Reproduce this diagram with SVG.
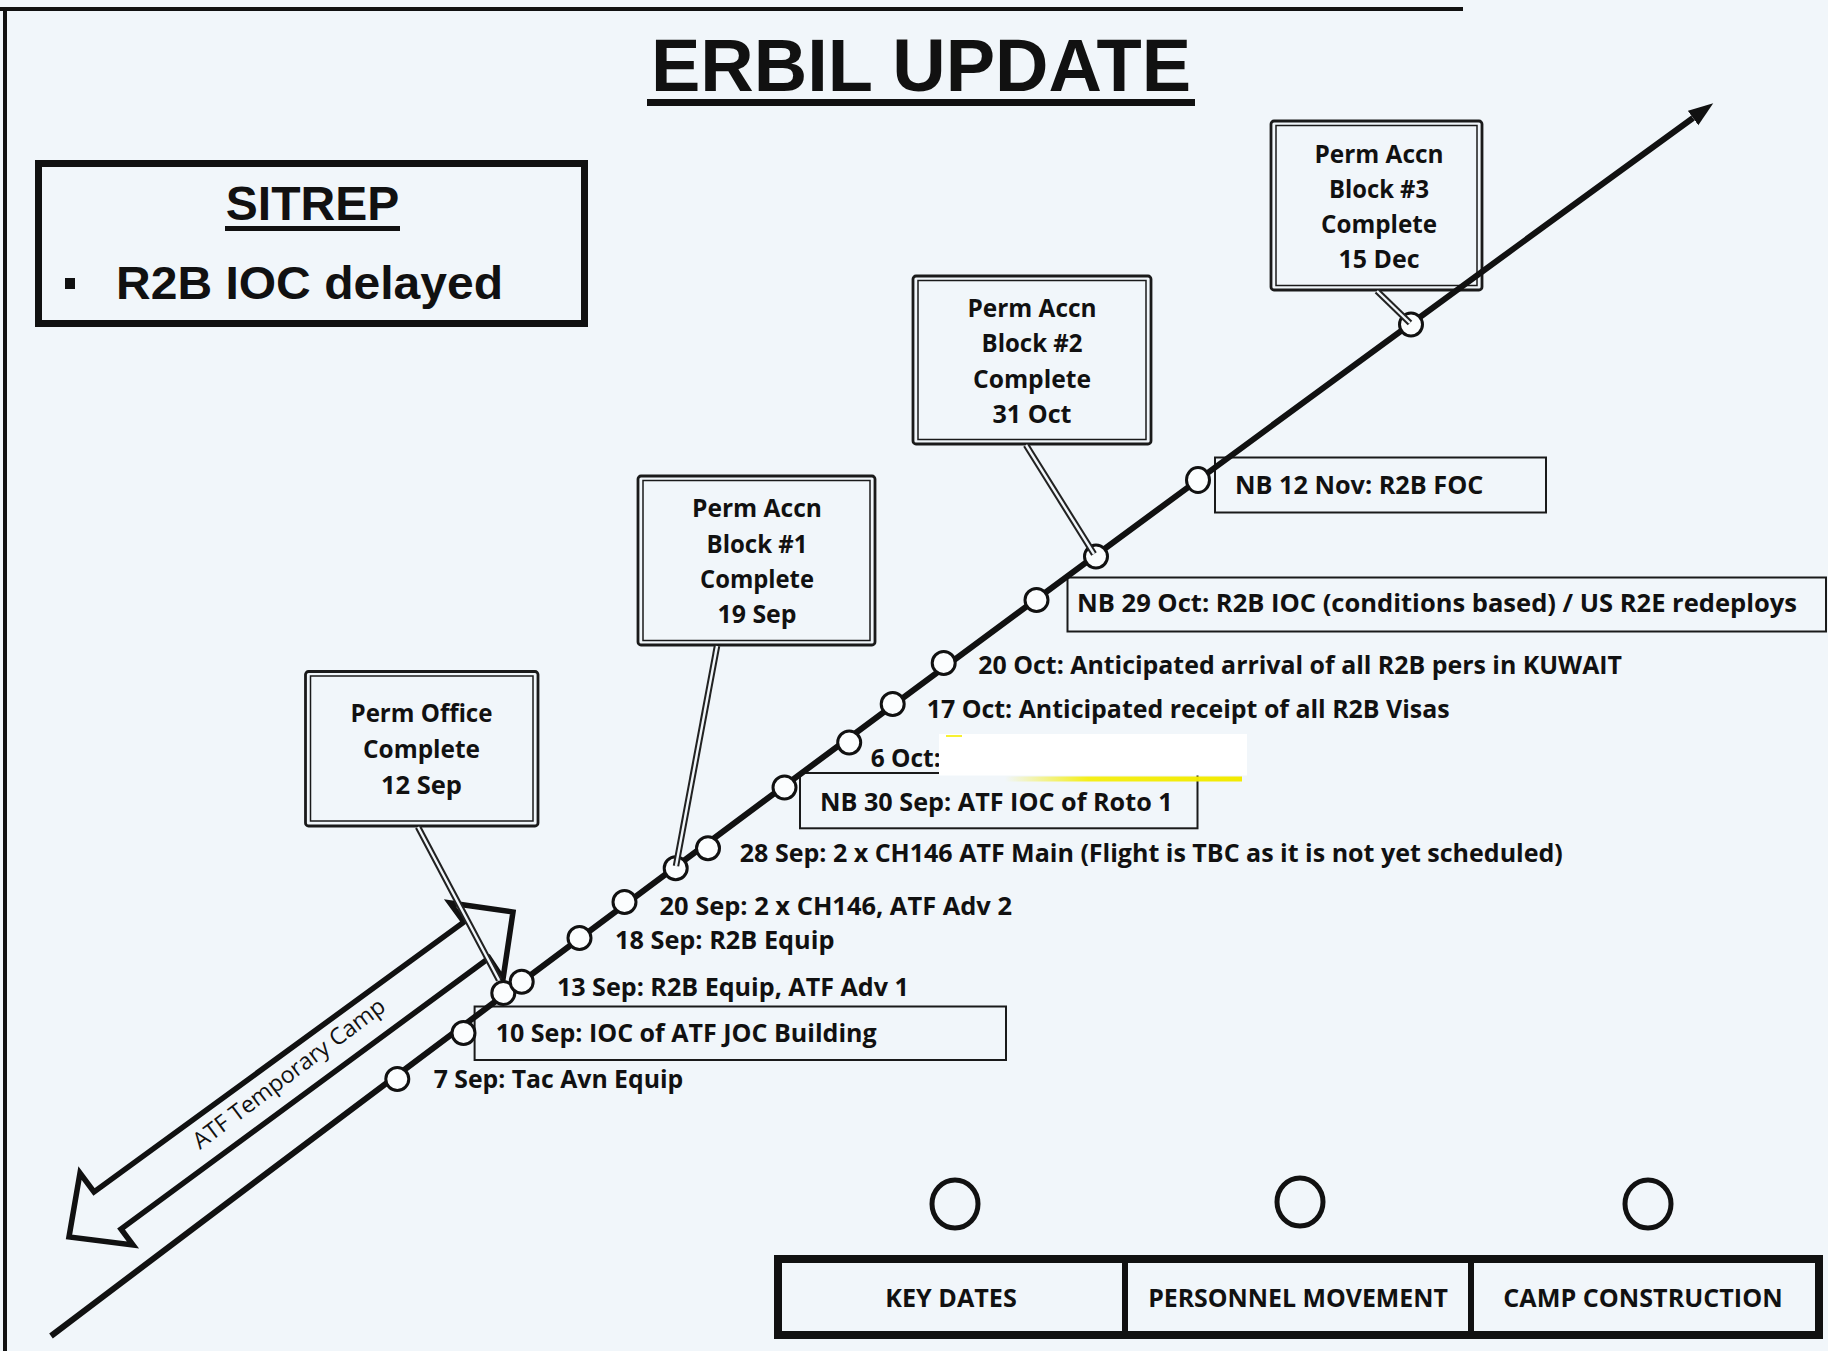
<svg xmlns="http://www.w3.org/2000/svg" width="1828" height="1351" viewBox="0 0 1828 1351">
<defs>
<marker id="arrowhead" markerUnits="userSpaceOnUse" markerWidth="26" markerHeight="20" refX="0" refY="9" orient="auto">
<path d="M0,0 L25,9 L0,18 z" fill="#111"/>
</marker>
<linearGradient id="yel" x1="0" y1="0" x2="1" y2="0">
<stop offset="0" stop-color="#f5ee00" stop-opacity="0"/>
<stop offset="0.35" stop-color="#f5ee00" stop-opacity="0.9"/>
<stop offset="1" stop-color="#f2ea00" stop-opacity="1"/>
</linearGradient>
<style>
.bg{fill:#f1f6fa}
.frame{stroke:#111;stroke-width:4;fill:none}
.lbl{font-family:"Open Sans",Lato,"Liberation Sans",sans-serif;font-weight:700;font-size:25px;fill:#111}
.btxt{font-family:"Open Sans",Lato,"Liberation Sans",sans-serif;font-weight:700;font-size:25px;fill:#111;text-anchor:middle}
.leg{font-family:"Open Sans",Lato,"Liberation Sans",sans-serif;font-weight:700;font-size:25px;fill:#111;text-anchor:middle}
.lbox{fill:none;stroke:#1a1a1a;stroke-width:2}
.outer{fill:none;stroke:#1a1a1a;stroke-width:2.8}
.inner{fill:none;stroke:#1a1a1a;stroke-width:1.5}
.dot{fill:#fbfdfe;stroke:#111;stroke-width:3}
.c-out{stroke:#222;stroke-width:6.5;stroke-linecap:butt}
.c-in{stroke:#f1f6fa;stroke-width:2.4;stroke-linecap:butt}
</style>
</defs>
<rect class="bg" x="0" y="0" width="1828" height="1351"/>
<line class="frame" x1="0" y1="9" x2="1463" y2="9"/>
<line class="frame" x1="5" y1="7" x2="5" y2="1351"/>

<g id="title">
<text x="921" y="91" font-family="'Liberation Sans',Arial,sans-serif" font-weight="700" font-size="74" text-anchor="middle" fill="#111">ERBIL UPDATE</text>
<rect x="647" y="99" width="548" height="7" fill="#111"/>
</g>

<g id="sitrep">
<rect x="38.5" y="163.5" width="546" height="160" fill="none" stroke="#111" stroke-width="7"/>
<text x="312.5" y="220" font-family="'Liberation Sans',Arial,sans-serif" font-weight="700" font-size="48" text-anchor="middle" fill="#111">SITREP</text>
<rect x="225" y="226" width="175" height="5" fill="#111"/>
<rect x="65" y="278" width="10" height="11" fill="#111"/>
<text x="116" y="299" font-family="'Liberation Sans',Arial,sans-serif" font-weight="700" font-size="46" textLength="387" lengthAdjust="spacingAndGlyphs" fill="#111">R2B IOC delayed</text>
</g>

<g id="label-boxes">
<rect class="lbox" x="474.6" y="1006.5" width="531.4" height="53.5"/>
<rect class="lbox" x="800" y="773" width="397.5" height="55.3"/>
<rect class="lbox" x="1067.5" y="577.5" width="758.5" height="54"/>
<rect class="lbox" x="1215" y="457.5" width="331" height="55"/>
</g>

<g id="perm-office">
<rect class="outer" x="305.5" y="671.5" width="232.5" height="154.5" rx="3"/>
<rect class="inner" x="310.5" y="676" width="222.5" height="145"/>
<text class="btxt" x="421.5" y="722" textLength="142" lengthAdjust="spacingAndGlyphs">Perm Office</text>
<text class="btxt" x="421.5" y="758" textLength="117" lengthAdjust="spacingAndGlyphs">Complete</text>
<text class="btxt" x="421.5" y="793.5" textLength="81" lengthAdjust="spacingAndGlyphs">12 Sep</text>
</g>

<g id="perm-accn-1">
<rect class="outer" x="638" y="476" width="237" height="169" rx="3"/>
<rect class="inner" x="643" y="480.5" width="227" height="160"/>
<text class="btxt" x="757" y="517.3" textLength="130" lengthAdjust="spacingAndGlyphs">Perm Accn</text>
<text class="btxt" x="757" y="552.7" textLength="101" lengthAdjust="spacingAndGlyphs">Block #1</text>
<text class="btxt" x="757" y="588.3" textLength="114" lengthAdjust="spacingAndGlyphs">Complete</text>
<text class="btxt" x="757" y="623.3" textLength="79" lengthAdjust="spacingAndGlyphs">19 Sep</text>
</g>

<g id="perm-accn-2">
<rect class="outer" x="913" y="276" width="238" height="168" rx="3"/>
<rect class="inner" x="918" y="280.5" width="228" height="159"/>
<text class="btxt" x="1032" y="317.3" textLength="129" lengthAdjust="spacingAndGlyphs">Perm Accn</text>
<text class="btxt" x="1032" y="352.3" textLength="101" lengthAdjust="spacingAndGlyphs">Block #2</text>
<text class="btxt" x="1032" y="387.7" textLength="118" lengthAdjust="spacingAndGlyphs">Complete</text>
<text class="btxt" x="1032" y="422.7" textLength="79" lengthAdjust="spacingAndGlyphs">31 Oct</text>
</g>

<g id="perm-accn-3">
<rect class="outer" x="1271" y="121" width="211" height="169" rx="3"/>
<rect class="inner" x="1276" y="125.5" width="201" height="160"/>
<text class="btxt" x="1379" y="162.5" textLength="129" lengthAdjust="spacingAndGlyphs">Perm Accn</text>
<text class="btxt" x="1379" y="197.5" textLength="100" lengthAdjust="spacingAndGlyphs">Block #3</text>
<text class="btxt" x="1379" y="232.5" textLength="116" lengthAdjust="spacingAndGlyphs">Complete</text>
<text class="btxt" x="1379" y="267.5" textLength="81" lengthAdjust="spacingAndGlyphs">15 Dec</text>
</g>

<g id="atf-temporary-camp">
<polygon points="513,912 503,979 489,958 121,1229 133,1245 69,1237 80,1173 94,1192 464,922 450,903" fill="none" stroke="#111" stroke-width="5.5" stroke-linejoin="miter"/>
<text x="200" y="1150" transform="rotate(-36.9 200 1150)" font-family="'Open Sans',Lato,sans-serif" font-size="23" fill="#111" textLength="234" lengthAdjust="spacingAndGlyphs">ATF Temporary Camp</text>
</g>

<g id="connectors">
<path d="M51,1336 Q875,712.5 1693,118" fill="none" stroke="#111" stroke-width="6" marker-end="url(#arrowhead)"/>
</g>

<g id="timeline-points">
<circle class="dot" cx="397.3" cy="1079" r="11.5"/>
<circle class="dot" cx="463.5" cy="1033" r="11.5"/>
<circle class="dot" cx="503.3" cy="993" r="11.5"/>
<circle class="dot" cx="521.7" cy="981.7" r="11.5"/>
<circle class="dot" cx="579.5" cy="938" r="11.5"/>
<circle class="dot" cx="624.5" cy="902" r="11.5"/>
<circle class="dot" cx="675.7" cy="868.3" r="11.5"/>
<circle class="dot" cx="708" cy="848.3" r="11.5"/>
<circle class="dot" cx="784.5" cy="787.5" r="11.5"/>
<circle class="dot" cx="849.2" cy="742.5" r="11.5"/>
<circle class="dot" cx="892.7" cy="704" r="11.5"/>
<circle class="dot" cx="943.7" cy="663" r="11.5"/>
<circle class="dot" cx="1036.5" cy="600" r="11.5"/>
<circle class="dot" cx="1096" cy="556.5" r="11.5"/>
<ellipse class="dot" cx="1198" cy="480" rx="11.5" ry="12.5"/>
<circle class="dot" cx="1411" cy="324.5" r="11.5"/>
</g>

<g id="callout-connectors">
<line class="c-out" x1="418" y1="827" x2="499" y2="980"/>
<line class="c-in" x1="418" y1="827" x2="499" y2="980"/>
<line class="c-out" x1="717" y1="646" x2="676" y2="866"/>
<line class="c-in" x1="717" y1="646" x2="676" y2="866"/>
<line class="c-out" x1="1026" y1="445" x2="1094" y2="554"/>
<line class="c-in" x1="1026" y1="445" x2="1094" y2="554"/>
<line class="c-out" x1="1377" y1="291" x2="1410" y2="323"/>
<line class="c-in" x1="1377" y1="291" x2="1410" y2="323"/>
</g>

<g id="timeline-labels">
<text class="lbl" x="433.7" y="1088.3" textLength="249.5" lengthAdjust="spacingAndGlyphs">7 Sep: Tac Avn Equip</text>
<text class="lbl" x="495.7" y="1042.3" textLength="381" lengthAdjust="spacingAndGlyphs">10 Sep: IOC of ATF JOC Building</text>
<text class="lbl" x="556.9" y="995.7" textLength="352" lengthAdjust="spacingAndGlyphs">13 Sep: R2B Equip, ATF Adv 1</text>
<text class="lbl" x="615" y="949" textLength="219.4" lengthAdjust="spacingAndGlyphs">18 Sep: R2B Equip</text>
<text class="lbl" x="659.5" y="915" textLength="352.5" lengthAdjust="spacingAndGlyphs">20 Sep: 2 x CH146, ATF Adv 2</text>
<text class="lbl" x="739.8" y="861.7" textLength="823" lengthAdjust="spacingAndGlyphs">28 Sep: 2 x CH146 ATF Main (Flight is TBC as it is not yet scheduled)</text>
<text class="lbl" x="820" y="810.5" textLength="352.7" lengthAdjust="spacingAndGlyphs">NB 30 Sep: ATF IOC of Roto 1</text>
<text class="lbl" x="870.7" y="766.7" textLength="70" lengthAdjust="spacingAndGlyphs">6 Oct:</text>
<text class="lbl" x="926.7" y="718" textLength="523" lengthAdjust="spacingAndGlyphs">17 Oct: Anticipated receipt of all R2B Visas</text>
<text class="lbl" x="978.3" y="674" textLength="643.7" lengthAdjust="spacingAndGlyphs">20 Oct: Anticipated arrival of all R2B pers in KUWAIT</text>
<text class="lbl" x="1077" y="612" textLength="720" lengthAdjust="spacingAndGlyphs">NB 29 Oct: R2B IOC (conditions based) / US R2E redeploys</text>
<text class="lbl" x="1235" y="493.5" textLength="248.3" lengthAdjust="spacingAndGlyphs">NB 12 Nov: R2B FOC</text>
</g>

<g id="redaction">
<rect x="939" y="734" width="308" height="41.5" fill="#ffffff"/>
<rect x="1005" y="776.5" width="237" height="5" fill="url(#yel)"/>
<rect x="946" y="735" width="16" height="2" fill="#f5ee00" opacity="0.8"/>
</g>

<g id="legend">
<ellipse cx="955" cy="1204" rx="23" ry="24" fill="none" stroke="#111" stroke-width="5"/>
<ellipse cx="1300" cy="1202" rx="23" ry="24" fill="none" stroke="#111" stroke-width="5"/>
<ellipse cx="1648" cy="1204" rx="23" ry="24" fill="none" stroke="#111" stroke-width="5"/>
<rect x="778" y="1259" width="1041" height="76" fill="none" stroke="#111" stroke-width="8"/>
<line x1="1125" y1="1259" x2="1125" y2="1335" stroke="#111" stroke-width="6"/>
<line x1="1471" y1="1259" x2="1471" y2="1335" stroke="#111" stroke-width="6"/>
<text class="leg" x="951" y="1306.5" textLength="131.5" lengthAdjust="spacingAndGlyphs">KEY DATES</text>
<text class="leg" x="1298" y="1306.5" textLength="299.7" lengthAdjust="spacingAndGlyphs">PERSONNEL MOVEMENT</text>
<text class="leg" x="1643" y="1306.5" textLength="279.3" lengthAdjust="spacingAndGlyphs">CAMP CONSTRUCTION</text>
</g>
</svg>
